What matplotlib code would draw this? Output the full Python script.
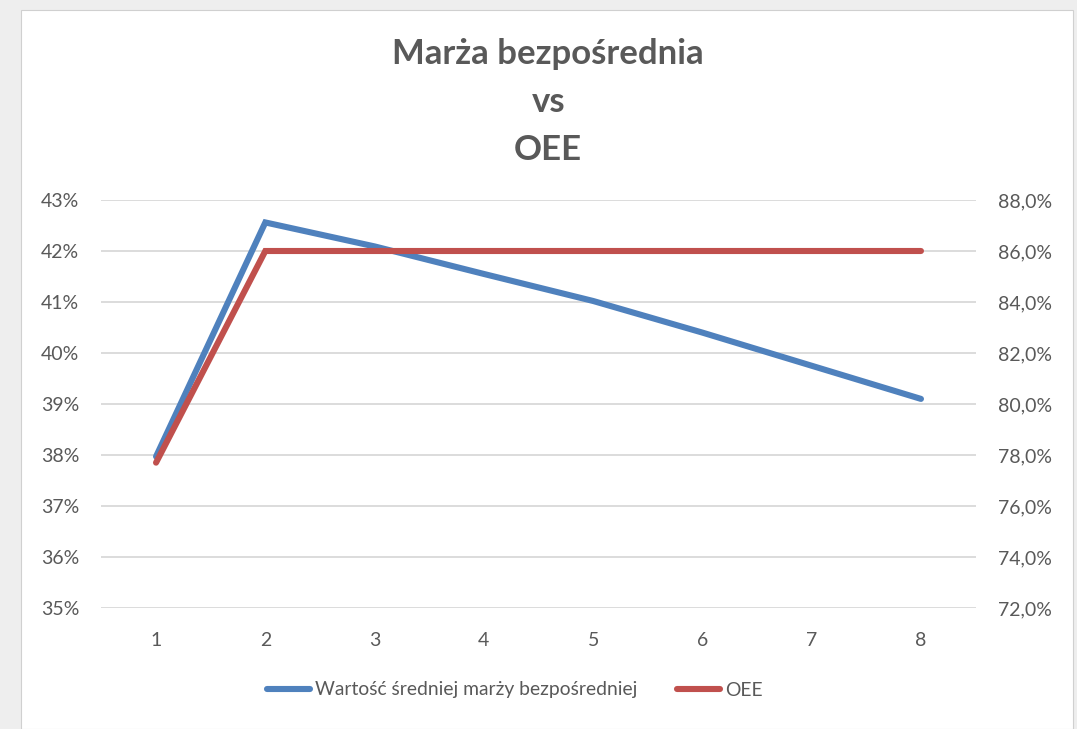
import matplotlib
matplotlib.use("Agg")
import matplotlib.pyplot as plt
from matplotlib.patches import Rectangle
from matplotlib.ticker import FuncFormatter

plt.rcParams['font.family'] = ['Lato', 'DejaVu Sans']

# data
periods = [1, 2, 3, 4, 5, 6, 7, 8]
marza = [37.97, 42.56, 42.09, 41.55, 41.02, 40.40, 39.75, 39.10]   # % (left axis)
oee = [77.7, 86.0, 86.0, 86.0, 86.0, 86.0, 86.0, 86.0]             # % (right axis)

label_marza = 'Wartość średniej marży bezpośredniej'
label_oee = 'OEE'
title = 'Marża bezpośrednia\nvs\nOEE'

blue = '#4F81BD'
red = '#C0504D'
grid = '#D9D9D9'
txt = '#595959'

fig = plt.figure(figsize=(10.77, 7.29), dpi=100, facecolor='#EEEEEE')
fig.patches.append(Rectangle((21 / 1077, 0), 1052 / 1077, 1 - 10 / 729,
                             transform=fig.transFigure, facecolor='white',
                             edgecolor='#D0D0D0', lw=0.8, zorder=-5))

ax = fig.add_axes([101.4 / 1077, 1 - 608 / 729, 874.2 / 1077, 408 / 729])
ax.set_facecolor('none')
ax2 = ax.twinx()

l1, = ax.plot(periods, marza, color=blue, lw=4.4, solid_capstyle='round',
              solid_joinstyle='miter', label=label_marza, zorder=3)
l2, = ax2.plot(periods, oee, color=red, lw=4.4, solid_capstyle='round',
               solid_joinstyle='miter', label=label_oee, zorder=3)

ax.set_xlim(0.5, 8.5)
ax.set_ylim(35, 43)
ax.set_yticks(range(35, 44))
ax2.set_ylim(72, 88)
ax2.set_yticks(range(72, 89, 2))
ax.set_xticks(periods)

ax.yaxis.set_major_formatter(FuncFormatter(lambda v, p: f'{v:.0f}%'))
ax2.yaxis.set_major_formatter(FuncFormatter(lambda v, p: f'{v:.1f}%'.replace('.', ',')))

ax.grid(axis='y', color=grid, lw=1.3)
ax.set_axisbelow(True)
for a in (ax, ax2):
    for s in a.spines.values():
        s.set_visible(False)
    a.tick_params(length=0, labelsize=14, labelcolor=txt)
ax.tick_params(axis='y', pad=16)
ax2.tick_params(axis='y', pad=16)
ax.tick_params(axis='x', pad=17)

fig.text(0.509, 1 - 102 / 729, title, ha='center', va='center', fontsize=25,
         fontweight='bold', color=txt, linespacing=1.6)

fig.legend(handles=[l1, l2], loc='center', bbox_to_anchor=(0.478, 1 - 690 / 729),
           ncol=2, frameon=False, fontsize=13.9, labelcolor=txt,
           handlelength=2.2, handletextpad=0.25, columnspacing=2.1)

fig.savefig('out.png', dpi=100, facecolor=fig.get_facecolor())
